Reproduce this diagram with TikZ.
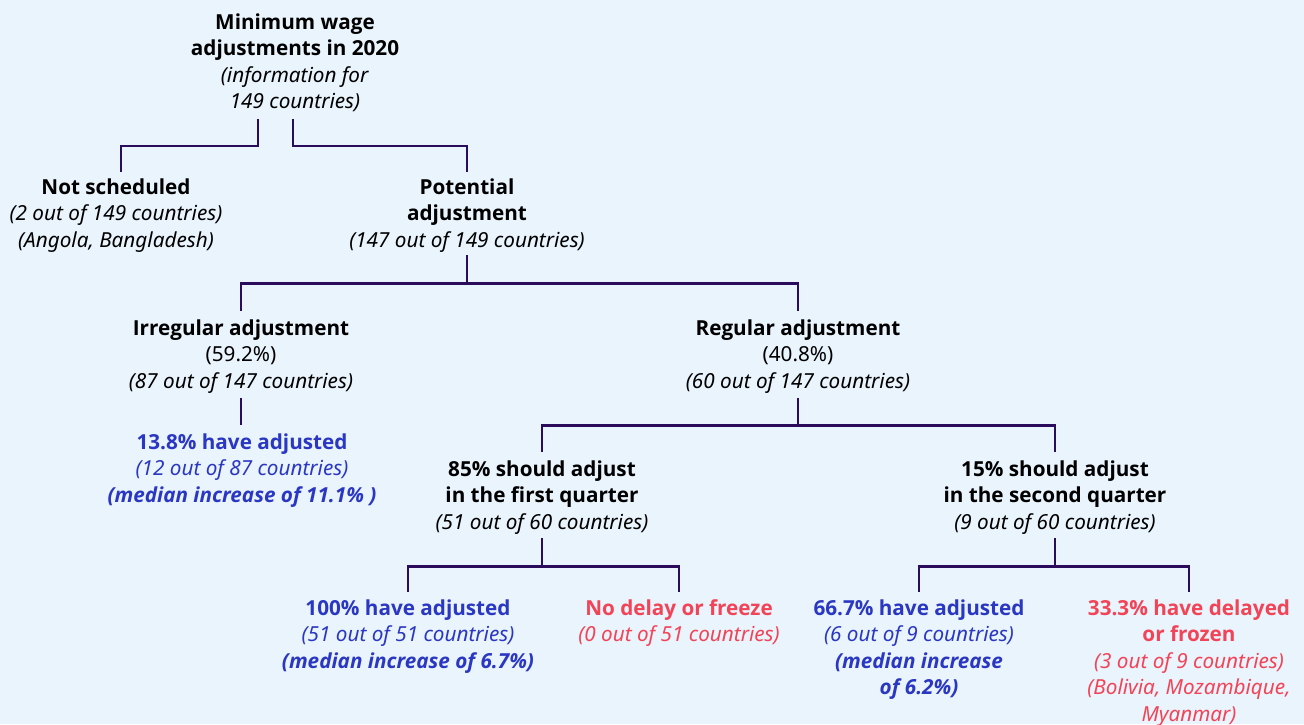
\documentclass[tikz,border=0pt]{standalone}
\usepackage{fontspec}
\setmainfont{Noto Sans}
\newfontfamily\boldsans{Open Sans}
\newcommand{\Bt}[1]{{\boldsans\bfseries #1}}
\newcommand{\BIt}[1]{{\boldsans\bfseries\itshape #1}}
\definecolor{bg}{HTML}{EAF4FD}
\definecolor{ln}{HTML}{2B0C5C}
\definecolor{bl}{HTML}{2A37C2}
\definecolor{rd}{HTML}{F24457}
\begin{document}
\begin{tikzpicture}[x=1pt,y=1pt,
  box/.style={inner sep=0pt, anchor=north, align=center, font=\fontsize{20.7}{26.5}\selectfont, text=black},
  bluebox/.style={box, text=bl},
  redbox/.style={box, text=rd},
  conn/.style={draw=ln, line width=2.5pt}]
\fill[bg] (0,0) rectangle (1304,-724);
\useasboundingbox (0,0) rectangle (1304,-724);

\node[box] (root) at (295,-10.5) {\strut\Bt{Minimum wage}\\\Bt{adjustments in 2020}\\\textit{(information for}\\\textit{149 countries)}\strut};
\node[box] (ns) at (116,-175.5) {\strut\Bt{Not scheduled}\\\textit{(2 out of 149 countries)}\\\textit{(Angola, Bangladesh)}\strut};
\node[box] (pot) at (467,-175.5) {\strut\Bt{Potential}\\\Bt{adjustment}\\\textit{(147 out of 149 countries)}\strut};
\node[box] (irr) at (241,-316.5) {\strut\Bt{Irregular adjustment}\\(59.2\%)\\\textit{(87 out of 147 countries)}\strut};
\node[box] (reg) at (798,-316.5) {\strut\Bt{Regular adjustment}\\(40.8\%)\\\textit{(60 out of 147 countries)}\strut};
\node[bluebox] (a13) at (242,-430.5) {\strut\Bt{13.8\% have adjusted}\\\textit{(12 out of 87 countries)}\\\BIt{(median increase of 11.1\% )}\strut};
\node[box] (q1) at (542,-457.5) {\strut\Bt{85\% should adjust}\\\Bt{in the first quarter}\\\textit{(51 out of 60 countries)}\strut};
\node[box] (q2) at (1055,-457.5) {\strut\Bt{15\% should adjust}\\\Bt{in the second quarter}\\\textit{(9 out of 60 countries)}\strut};
\node[bluebox] (a100) at (408,-596.5) {\strut\Bt{100\% have adjusted}\\\textit{(51 out of 51 countries)}\\\BIt{(median increase of 6.7\%)}\strut};
\node[redbox] (nod) at (679,-596.5) {\strut\Bt{No delay or freeze}\\\textit{(0 out of 51 countries)}\strut};
\node[bluebox] (a66) at (919,-596.5) {\strut\Bt{66.7\% have adjusted}\\\textit{(6 out of 9 countries)}\\\BIt{(median increase}\\\BIt{of 6.2\%)}\strut};
\node[redbox] (a33) at (1189,-596.5) {\strut\Bt{33.3\% have delayed}\\\Bt{or frozen}\\\textit{(3 out of 9 countries)}\\\textit{(Bolivia, Mozambique,}\\\textit{Myanmar)}\strut};

\draw[conn] ([xshift=-37pt,yshift=-2pt]root.south) -- ++(0,-27) -| ([xshift=5pt,yshift=3.5pt]ns.north);
\draw[conn] ([xshift=-2pt,yshift=-2pt]root.south) -- ++(0,-27) -| ([yshift=3.5pt]pot.north);
\draw[conn] (pot.south) -- ++(0,-28) -| ([yshift=5.5pt]irr.north);
\draw[conn] (pot.south) -- ++(0,-28) -| ([yshift=5.5pt]reg.north);
\draw[conn] ([yshift=-2pt]irr.south) -- ([yshift=5.5pt]irr.south |- a13.north);
\draw[conn] ([yshift=-2pt]reg.south) -- ++(0,-27) -| ([yshift=5.5pt]q1.north);
\draw[conn] ([yshift=-2pt]reg.south) -- ++(0,-27) -| ([yshift=5.5pt]q2.north);
\draw[conn] ([yshift=-1pt]q1.south) -- ++(0,-28) -| ([yshift=4.5pt]a100.north);
\draw[conn] ([yshift=-1pt]q1.south) -- ++(0,-28) -| ([yshift=4.5pt]nod.north);
\draw[conn] ([yshift=-1pt]q2.south) -- ++(0,-28) -| ([yshift=4.5pt]a66.north);
\draw[conn] ([yshift=-1pt]q2.south) -- ++(0,-28) -| ([yshift=4.5pt]a33.north);
\end{tikzpicture}
\end{document}
